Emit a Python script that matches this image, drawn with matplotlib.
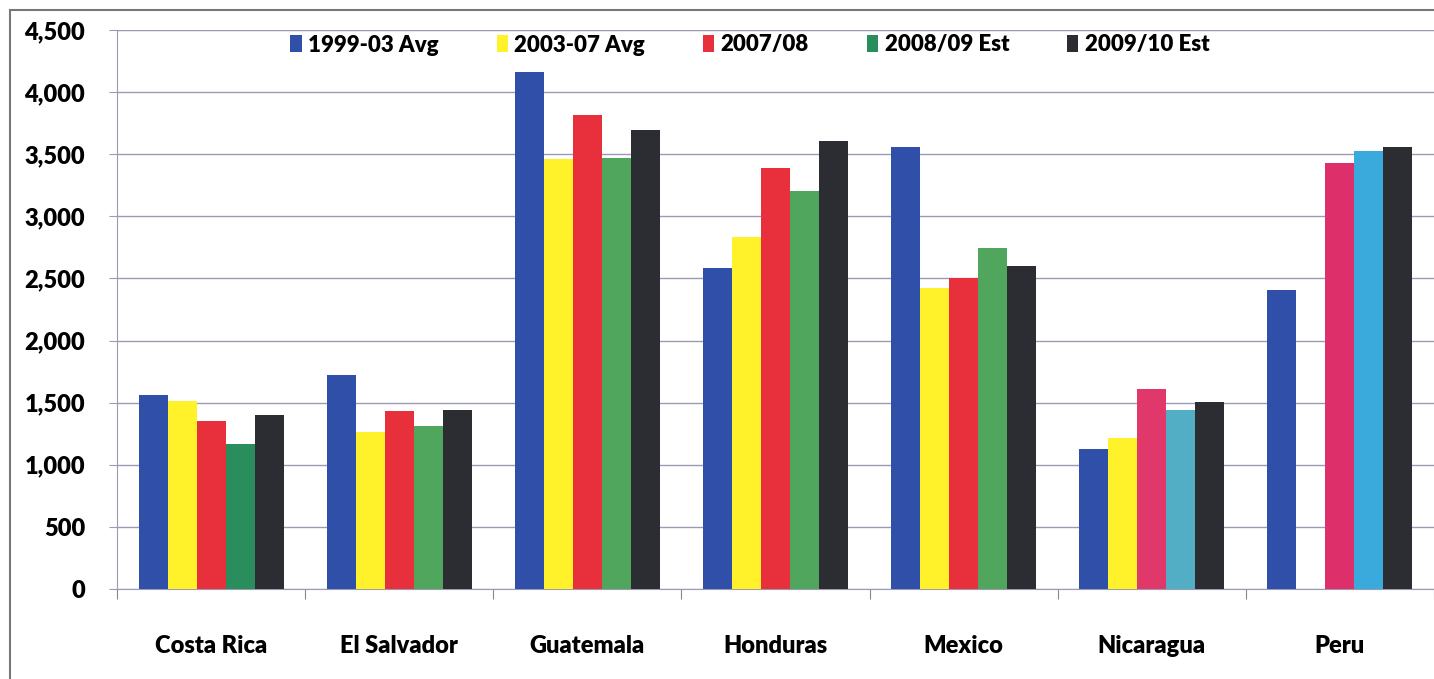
import matplotlib
matplotlib.use("Agg")
import matplotlib.pyplot as plt
import numpy as np
from matplotlib.patches import Rectangle

plt.rcParams['font.family'] = ['Lato', 'DejaVu Sans']

countries = ['Costa Rica', 'El Salvador', 'Guatemala', 'Honduras', 'Mexico', 'Nicaragua', 'Peru']
series = ['1999-03 Avg', '2003-07 Avg', '2007/08', '2008/09 Est', '2009/10 Est']

avg_99_03 = [1558, 1719, 4161, 2586, 3558, 1124, 2410]
avg_03_07 = [1510, 1261, 3462, 2835, 2426, 1213, np.nan]   # Peru bar faded out in the scan
y_07_08 = [1349, 1430, 3815, 3390, 2506, 1606, 3432]
y_08_09 = [1165, 1309, 3470, 3205, 2747, 1438, 3526]
y_09_10 = [1398, 1438, 3695, 3606, 2602, 1502, 3561]

values = [avg_99_03, avg_03_07, y_07_08, y_08_09, y_09_10]
colors = ['#2f4fa8', '#fff22a', '#e8303c', '#4fa65c', '#2b2d33']
# the scan shifted some colours on the right-hand groups
bar_colors = [
    [colors[0]] * 7,
    [colors[1]] * 7,
    [colors[2]] * 5 + ['#e0386a', '#dd2f6a'],
    ['#2a8d5c'] + [colors[3]] * 4 + ['#52aec4', '#3aa9dc'],
    [colors[4]] * 7,
]

W, H = 1434, 679
fig = plt.figure(figsize=(W / 100, H / 100), dpi=100)
ax = fig.add_axes([117 / W, 1 - 589 / H, (1434 - 117) / W, (589 - 30) / H])

x = np.arange(len(countries))
bw = 0.154
for i, (vals, cols) in enumerate(zip(values, bar_colors)):
    ax.bar(x + (i - 2) * bw, vals, bw, color=cols, label=series[i], zorder=3)

ax.set_ylim(0, 4500)
ax.set_xlim(-0.5, 6.45)
ax.set_yticks(np.arange(0, 4501, 500))
ax.set_yticklabels([f'{v:,}' for v in range(0, 4501, 500)], fontsize=17, fontweight='heavy')
ax.yaxis.grid(True, color='#9a9ab4', lw=1, zorder=0)
ax.tick_params(axis='y', length=6, color='#9a9ab4', pad=17)

ax.set_xticks(np.arange(-0.5, 7, 1))
ax.set_xticklabels([])
ax.set_xticks(x, minor=True)
ax.set_xticklabels(countries, minor=True, fontsize=17, fontweight='heavy')
ax.tick_params(axis='x', which='major', length=7, color='#888888', direction='out')
ax.tick_params(axis='x', which='minor', length=0, pad=33)

for s in ['top', 'right']:
    ax.spines[s].set_visible(False)
ax.spines['left'].set_color('#9a9ab4')
ax.spines['bottom'].set_color('#9a9ab4')

# top gridline drawn darker like the plot border
ax.axhline(4500, color='#666677', lw=1.5, zorder=1)

fig.legend(loc='center', bbox_to_anchor=(0.523, 1 - 45 / H), ncol=5, frameon=False,
           handlelength=0.5, handleheight=0.8, handletextpad=0.3, columnspacing=2.6,
           prop={'size': 16, 'weight': 'heavy'})

# scanned outer frame
fig.patches.append(Rectangle((10 / W, -0.05), 1.1, 1 - 10 / H + 0.05, transform=fig.transFigure,
                             fill=False, edgecolor='#777777', lw=1.5))

fig.savefig('out.png', dpi=100, facecolor='white')
